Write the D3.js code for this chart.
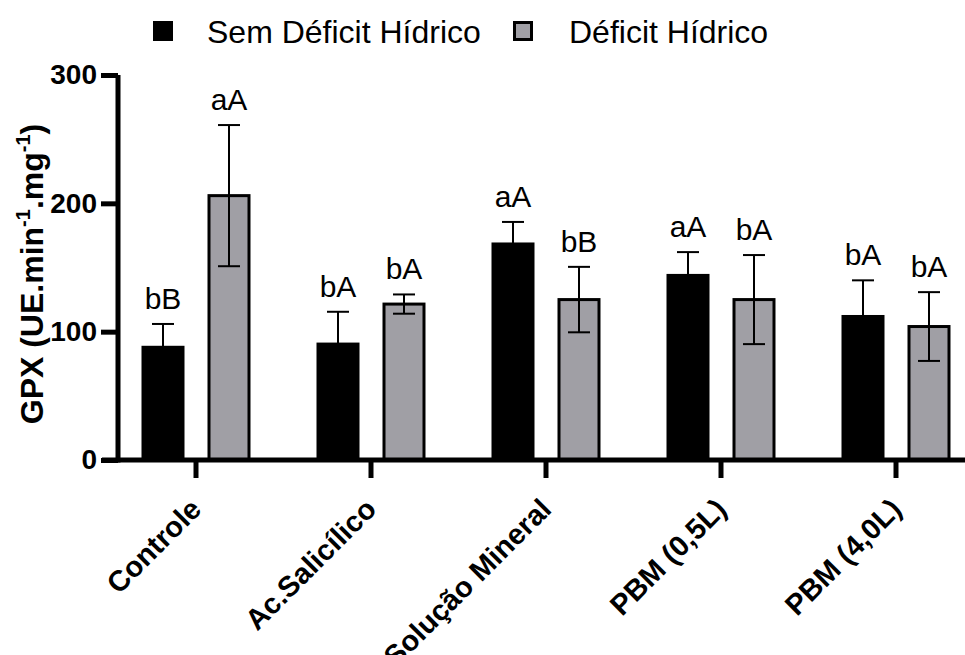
<!DOCTYPE html>
<html>
<head>
<meta charset="utf-8">
<script src="https://cdn.jsdelivr.net/npm/d3@7"></script>
<style>
  html, body { margin: 0; padding: 0; background: #fff; }
  svg { display: block; font-family: "Liberation Sans", Arial, Helvetica, sans-serif; }
</style>
</head>
<body>
<svg id="chart" width="965" height="655"></svg>
<script>
// Treatments on the x axis
const categories = ["Controle", "Ac.Salicílico", "Solução Mineral", "PBM (0,5L)", "PBM (4,0L)"];
// Water regimes (legend order)
const series = ["Sem Déficit Hídrico", "Déficit Hídrico"];
// GPX means and error (SD) per treatment
const semDeficit = [89, 91.5, 169.5, 145, 113];
const semDeficitErr = [17, 24, 16, 17, 27];
const deficit = [206, 121.5, 125, 125, 104];
const deficitErr = [55, 7.5, 25.5, 34.7, 26.8];
// Statistical letters above each bar
const semDeficitLetters = ["bB", "bA", "aA", "aA", "bA"];
const deficitLetters = ["aA", "bA", "bB", "bA", "bA"];
// Y axis ticks
const yTicks = [0, 100, 200, 300];

const fills = { "Sem Déficit Hídrico": "#000000", "Déficit Hídrico": "#a09fa5" };

const svg = d3.select("#chart");

const y = d3.scaleLinear().domain([0, 300]).range([460, 75]);
const x = d3.scaleBand().domain(categories).range([108.5, 983.5]).padding(0);
const xInner = d3.scaleBand().domain(series).range([0, x.bandwidth()])
  .paddingInner(0.3485).paddingOuter(0.5);

const rows = categories.map((c, i) => [
  { cat: c, s: series[0], v: semDeficit[i], e: semDeficitErr[i], lab: semDeficitLetters[i] },
  { cat: c, s: series[1], v: deficit[i], e: deficitErr[i], lab: deficitLetters[i] }
]).flat();

// Bars
const bw = xInner.bandwidth();
svg.append("g").selectAll("rect").data(rows).join("rect")
  .attr("x", d => x(d.cat) + xInner(d.s) + (d.s === series[1] ? 1.5 : 0))
  .attr("width", d => d.s === series[1] ? bw - 3 : bw)
  .attr("y", d => y(d.v))
  .attr("height", d => y(0) - y(d.v))
  .attr("fill", d => fills[d.s])
  .attr("stroke", d => d.s === series[1] ? "#000" : "none")
  .attr("stroke-width", 3);

// Error bars
const cx = d => x(d.cat) + xInner(d.s) + bw / 2;
const eg = svg.append("g").attr("stroke", "#000").attr("stroke-width", 2).attr("fill", "none");
eg.selectAll("line.v").data(rows).join("line").attr("class", "v")
  .attr("x1", cx).attr("x2", cx)
  .attr("y1", d => y(d.v - d.e)).attr("y2", d => y(d.v + d.e));
eg.selectAll("line.t").data(rows).join("line").attr("class", "t")
  .attr("x1", d => cx(d) - 11).attr("x2", d => cx(d) + 11)
  .attr("y1", d => y(d.v + d.e)).attr("y2", d => y(d.v + d.e));
eg.selectAll("line.b").data(rows).join("line").attr("class", "b")
  .attr("x1", d => cx(d) - 11).attr("x2", d => cx(d) + 11)
  .attr("y1", d => y(d.v - d.e)).attr("y2", d => y(d.v - d.e));

// Letters
svg.append("g").selectAll("text").data(rows).join("text")
  .attr("x", cx)
  .attr("y", d => y(d.v + d.e) - 15)
  .attr("text-anchor", "middle")
  .attr("font-size", 30)
  .attr("fill", "#000")
  .text(d => d.lab);

// Y axis
const yAxis = svg.append("g").attr("transform", "translate(118,0)")
  .call(d3.axisLeft(y).tickValues(yTicks).tickSize(17).tickSizeOuter(0).tickPadding(4));
yAxis.select(".domain").attr("stroke-width", 5).attr("d", "M0," + y(300) + "V" + (y(0) + 2.5));
yAxis.selectAll(".tick line").attr("stroke-width", 5);
yAxis.selectAll(".tick text").attr("font-size", 28).attr("font-weight", "bold")
  .attr("font-family", "'Liberation Sans', Arial, sans-serif").attr("fill", "#000");

// X axis
const xAxis = svg.append("g").attr("transform", "translate(0,460)")
  .call(d3.axisBottom(x).tickSize(18).tickSizeOuter(0));
xAxis.select(".domain").attr("stroke-width", 5).attr("d", "M102,0H965");
xAxis.selectAll(".tick line").attr("stroke-width", 5);
xAxis.selectAll(".tick text")
  .attr("font-size", 29).attr("font-weight", "bold")
  .attr("font-family", "'Liberation Sans', Arial, sans-serif").attr("fill", "#000")
  .attr("x", 0).attr("y", 0).attr("dy", 0)
  .attr("text-anchor", "end")
  .attr("transform", "translate(7,51) rotate(-45)");

// Y axis title
const title = svg.append("text")
  .attr("transform", "translate(43,274) rotate(-90)")
  .attr("text-anchor", "middle")
  .attr("font-size", 32).attr("font-weight", "bold").attr("fill", "#000");
title.append("tspan").text("GPX (UE.min");
title.append("tspan").attr("dy", -13).attr("font-size", 20).text("-1");
title.append("tspan").attr("dy", 13).text(".mg");
title.append("tspan").attr("dy", -13).attr("font-size", 20).text("-1");
title.append("tspan").attr("dy", 13).text(")");

// Legend
const legendX = [153, 513];
const textX = [207, 569];
const lg = svg.append("g");
series.forEach((s, i) => {
  if (i === 0) {
    lg.append("rect").attr("x", legendX[i]).attr("y", 21).attr("width", 20).attr("height", 20).attr("fill", fills[s]);
  } else {
    lg.append("rect").attr("x", legendX[i] + 1.5).attr("y", 22.5).attr("width", 17).attr("height", 17)
      .attr("fill", fills[s]).attr("stroke", "#000").attr("stroke-width", 3);
  }
  lg.append("text").attr("x", textX[i]).attr("y", 43).attr("font-size", 32).attr("fill", "#000").text(s);
});
</script>
</body>
</html>
